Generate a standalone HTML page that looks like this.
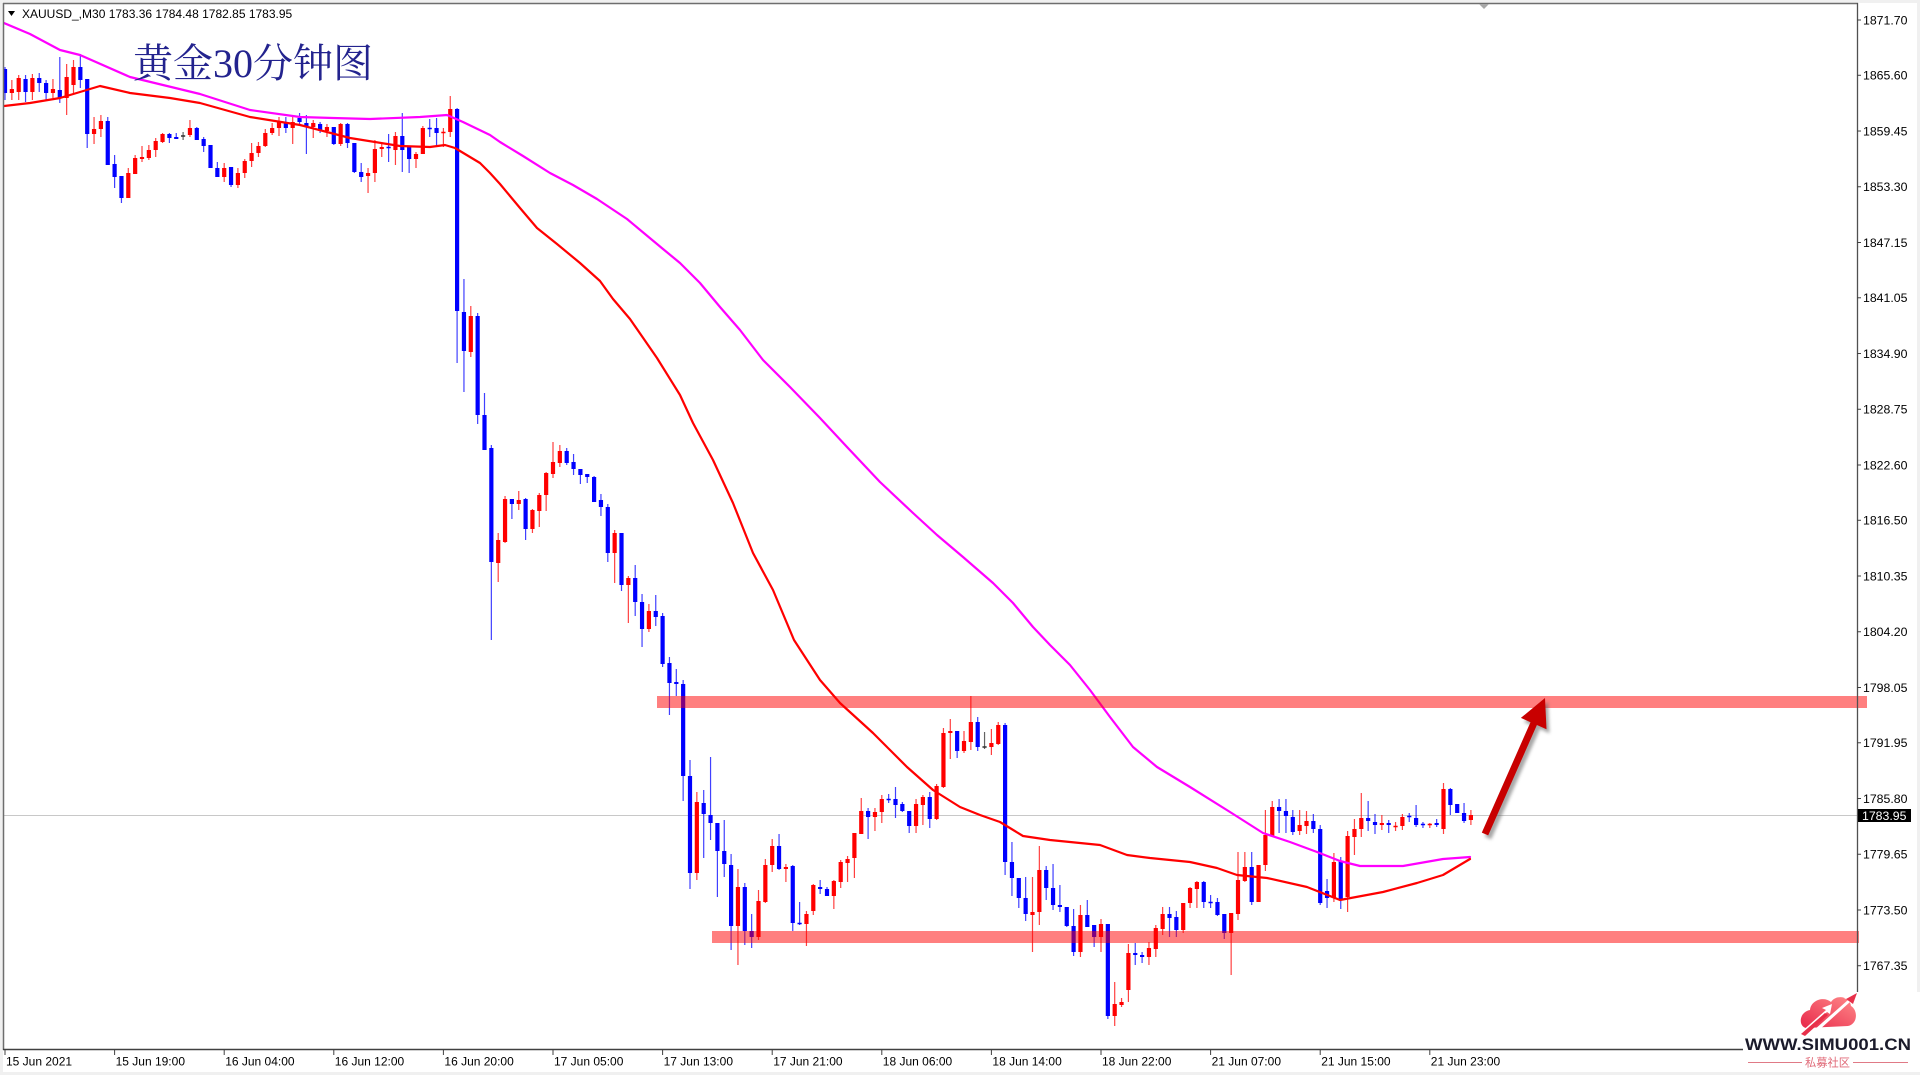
<!DOCTYPE html>
<html>
<head>
<meta charset="utf-8">
<style>
html,body{margin:0;padding:0;background:#f0f0f0;}
body{width:1920px;height:1075px;overflow:hidden;}
svg{display:block;}
text{font-family:"Liberation Sans","Noto Sans CJK SC",sans-serif;}
</style>
</head>
<body>
<svg id="chart" width="1920" height="1075" viewBox="0 0 1920 1075" xmlns="http://www.w3.org/2000/svg">
<defs>
  <clipPath id="clip"><rect x="4" y="4" width="1853" height="1046"/></clipPath>
  <linearGradient id="lg" x1="0" y1="1" x2="1" y2="0">
    <stop offset="0" stop-color="#e8284a"/>
    <stop offset="1" stop-color="#ff8a8a"/>
  </linearGradient>
  <filter id="sh" x="-20%" y="-20%" width="140%" height="140%">
    <feGaussianBlur stdDeviation="1.5"/>
  </filter>
</defs>
<!-- background -->
<rect x="0" y="0" width="1920" height="1075" fill="#f0f0f0"/>
<rect x="3" y="3" width="1914" height="1069" fill="#ffffff"/>

<!-- current price line -->
<line x1="4" y1="815.5" x2="1857" y2="815.5" stroke="#c8c8c8" stroke-width="1"/>

<!-- candles -->
<g id="candles" clip-path="url(#clip)"></g>

<!-- moving averages -->
<g clip-path="url(#clip)" fill="none" stroke-linejoin="round" stroke-linecap="round">
<polyline stroke="#ff00ff" stroke-width="2.2" points="4,23 30,34 60,50 80,55 130,77 200,94 250,110 300,117 333,118 370,119 420,117 447,115 463,122 490,135 500,142 523,156 550,173 573,185 597,199 627,219 663,249 680,263 700,283 720,307 740,330 763,360 790,387 820,418 847,447 880,482 913,513 937,535 963,557 993,583 1013,603 1033,627 1050,645 1070,665 1090,690 1110,717 1133,747 1157,767 1190,787 1230,812 1263,833 1290,842 1317,852 1340,861 1360,866 1403,866 1443,859 1470,857"/>
<polyline stroke="#ff0000" stroke-width="2.2" points="4,106 30,103 60,98 100,86 130,93 170,98 200,103 250,117 300,125 350,138 400,146 430,147 445,145 455,148 470,157 480,163 490,173 500,184 520,208 537,228 557,244 580,263 600,281 613,299 630,319 657,358 680,395 693,423 713,460 733,503 753,553 773,590 794,640 807,660 820,680 840,703 873,733 907,767 933,790 960,807 980,815 1000,822 1023,836 1050,840 1100,845 1127,855 1150,858 1190,862 1217,868 1237,875 1267,878 1307,887 1340,900 1383,892 1417,883 1443,875 1470,859"/>
</g>

<!-- support / resistance bands -->
<rect x="657" y="696" width="1210" height="12" fill="#ff0000" fill-opacity="0.5"/>
<rect x="712" y="931" width="1147" height="12" fill="#ff0000" fill-opacity="0.5"/>

<!-- arrow -->
<polygon points="1481.8,832.6 1530.5,722.2 1520.9,717.9 1545,698 1546.5,729.3 1536.9,725 1488.2,835.4" fill="#606060" opacity="0.55" transform="translate(3,4)" filter="url(#sh)"/>
<polygon points="1481.8,832.6 1530.5,722.2 1520.9,717.9 1545,698 1546.5,729.3 1536.9,725 1488.2,835.4" fill="#c80000"/>

<!-- frame -->
<line x1="3.5" y1="3" x2="3.5" y2="1050" stroke="#6e6e6e" stroke-width="1.5"/>
<line x1="3" y1="3.5" x2="1858" y2="3.5" stroke="#6e6e6e" stroke-width="1.5"/>
<line x1="1857.5" y1="3" x2="1857.5" y2="1050" stroke="#505050" stroke-width="1.3"/>
<line x1="3" y1="1049.5" x2="1858" y2="1049.5" stroke="#404040" stroke-width="1.5"/>

<!-- top small marker -->
<polygon points="1479,4 1489,4 1484,9" fill="#a8a8a8"/>

<!-- header -->
<polygon points="8,11 15,11 11.5,16" fill="#000"/>
<text x="22" y="18" font-size="12" fill="#000">XAUUSD_,M30  1783.36 1784.48 1782.85 1783.95</text>

<!-- title -->
<text x="133" y="77" font-size="40" fill="#23238e" style="font-family:'Liberation Serif','Noto Serif CJK SC','Noto Sans CJK SC',serif;">黄金30分钟图</text>

<!-- price axis -->
<g id="yaxis" font-size="12.3" fill="#000"></g>

<!-- current price label -->
<rect x="1858" y="809" width="53" height="13" fill="#000"/>
<text x="1862" y="819.8" font-size="12.3" fill="#fff">1783.95</text>

<!-- time axis -->
<g id="xaxis" font-size="12" fill="#000"></g>

<!-- logo -->
<rect x="1743" y="992" width="177" height="80" fill="#ffffff"/>
<g>
  <path d="M1806,1028 C1798,1026 1799,1012 1810,1010 C1811,1000 1824,996 1831,1002 C1836,994 1850,996 1851,1006 C1858,1010 1858,1024 1848,1026 Z" fill="url(#lg)"/>
  <polygon points="1800,1033 1826,1010 1822,1008 1832,1004 1830,1014 1827,1012 1804,1034" fill="#ffffff"/>
  <polygon points="1814,1030 1848,1000 1844,998 1857,993 1852,1005 1850,1002 1818,1031" fill="#ffffff"/>
  <polygon points="1801,1034 1825,1013 1828,1015 1805,1036" fill="#e8304a"/>
  <polygon points="1846,999 1857,993 1853,1004" fill="#e8304a"/>
</g>
<text x="1745" y="1050" font-size="16.5" font-weight="bold" fill="#1b1b2b" textLength="166" lengthAdjust="spacingAndGlyphs">WWW.SIMU001.CN</text>
<line x1="1748" y1="1062.5" x2="1802" y2="1062.5" stroke="#e07a86" stroke-width="1"/>
<line x1="1853" y1="1062.5" x2="1908" y2="1062.5" stroke="#e07a86" stroke-width="1"/>
<text x="1805" y="1066.5" font-size="11.5" fill="#e06a78" textLength="45" lengthAdjust="spacingAndGlyphs">私募社区</text>
</svg>

<script>
(function(){
var NS="http://www.w3.org/2000/svg";
var D=[
[69,67,100,93],[93,80,100,89],[92,75,100,78],[79,75,102,92],[92,74,100,78],[78,73,92,83],[83,80,100,93],[93,79,98,89],[90,57,103,98],[98,64,115,77],
[85,60,93,67],[67,54,88,80],[79,79,148,134],[134,117,144,129],[129,115,137,121],[121,117,165,165],[164,155,188,177],[176,176,203,198],[198,168,198,173],[174,155,174,158],
[159,146,162,157],[158,145,160,150],[150,138,157,141],[142,133,143,134],[134,133,143,138],[137,133,139,139],[136,132,140,136],[135,120,137,128],[128,127,140,140],[139,137,152,146],
[145,145,168,168],[168,162,177,177],[177,163,182,168],[167,167,187,185],[185,168,188,173],[173,159,178,161],[161,143,167,153],[153,142,157,146],[146,129,147,133],[133,123,135,128],
[128,117,136,122],[122,117,133,128],[128,117,144,122],[118,113,125,122],[123,115,154,127],[127,120,138,123],[124,122,133,131],[131,124,137,127],[127,127,145,144],[144,123,146,124],
[124,123,148,143],[143,143,173,172],[172,163,182,177],[176,168,193,173],[173,140,182,149],[149,142,157,147],[147,134,162,148],[150,132,165,136],[136,113,172,150],[147,147,173,159],
[159,152,168,154],[154,126,154,128],[128,119,137,129],[128,118,147,133],[133,128,147,132],[132,96,137,109],[109,108,363,311],[312,279,392,351],[352,306,357,316],[316,313,424,415],
[415,393,450,450],[448,445,640,562],[563,533,582,540],[542,496,543,499],[499,499,519,504],[504,491,510,500],[499,498,540,529],[529,509,533,510],[511,493,527,495],[495,472,511,473],
[474,442,478,462],[463,445,467,451],[451,448,465,463],[462,454,475,469],[469,469,484,475],[474,474,483,477],[477,476,502,502],[500,494,516,507],[507,504,562,553],[553,530,583,533],
[533,533,591,585],[585,576,623,578],[578,565,616,602],[602,594,647,629],[629,604,632,611],[611,595,626,617],[616,613,667,664],[663,657,715,683],[682,669,696,684],[684,680,801,776],
[776,760,889,873],[873,792,880,802],[803,790,858,814],[815,757,840,823],[823,823,897,851],[851,820,877,864],[865,854,950,926],[926,869,965,887],[887,883,945,931],[931,914,948,937],
[937,890,940,901],[902,859,903,865],[865,839,872,846],[846,834,870,869],[869,864,882,867],[866,865,931,923],[923,902,925,924],[924,911,946,914],[911,884,915,885],[887,880,894,889],
[889,887,896,896],[896,880,909,881],[882,860,888,862],[863,856,882,859],[858,833,878,833],[834,798,834,811],[811,808,839,817],[817,808,831,812],[812,795,823,799],[799,794,803,800],
[799,787,818,805],[804,802,812,811],[811,811,833,826],[826,799,833,804],[805,795,825,797],[797,792,828,819],[819,784,820,786],[787,728,788,733],[733,719,759,731],[731,731,758,751],
[751,731,753,741],[742,696,750,722],[722,717,751,747],[747,732,749,747],[747,729,755,743],[744,722,745,725],[725,723,875,862],[862,842,896,878],[878,878,908,898],[898,877,921,914],
[915,877,952,912],[912,846,925,870],[870,866,900,888],[888,864,910,905],[905,885,912,907],[907,907,927,926],[926,909,956,952],[952,905,957,915],[915,900,927,927],[925,925,947,937],
[937,919,952,924],[924,924,1019,1016],[1016,982,1026,1004],[1005,998,1007,1002],[990,944,1002,953],[953,943,965,955],[955,952,963,957],[957,942,965,948],[949,925,957,928],[929,907,935,914],
[914,907,937,918],[917,911,937,930],[930,903,933,903],[903,887,908,888],[889,881,908,882],[882,881,908,902],[902,895,908,903],[902,898,916,915],[914,914,939,933],[933,913,975,913],
[914,852,920,880],[881,852,882,867],[867,852,905,902],[902,865,902,865],[865,810,871,835],[836,801,836,807],[807,799,833,811],[811,799,833,816],[817,810,835,832],[831,810,835,825],
[826,811,834,821],[821,814,833,829],[829,825,905,903],[891,879,908,898],[898,853,902,862],[861,857,909,900],[897,831,912,836],[837,819,855,829],[829,793,837,818],[818,801,831,821],
[822,814,834,825],[825,815,830,823],[823,820,833,825],[827,822,831,826],[826,814,830,817],[816,813,822,817],[818,805,827,825],[824,822,828,825],[825,823,828,824],[823,819,827,825],
[829,783,834,789],[789,788,815,805],[804,804,813,813],[813,803,823,821],[820,810,825,815]
];
var g=document.getElementById("candles");
for(var i=0;i<D.length;i++){
  var d=D[i],o=d[0],h=d[1],l=d[2],c=d[3];
  var x=5+6.85*i;
  var col=c<o?"#ff0000":(c>o?"#0000ff":"#303030");
  var ln=document.createElementNS(NS,"line");
  ln.setAttribute("x1",x);ln.setAttribute("x2",x);
  ln.setAttribute("y1",h);ln.setAttribute("y2",l);
  ln.setAttribute("stroke",col);ln.setAttribute("stroke-width","1.2");
  ln.setAttribute("stroke-opacity","0.75");
  g.appendChild(ln);
  var top=Math.min(o,c),bh=Math.abs(o-c);
  if(bh<1.5){bh=1.5;top=(o+c)/2-0.75;}
  var r=document.createElementNS(NS,"rect");
  r.setAttribute("x",x-2.1);r.setAttribute("y",top);
  r.setAttribute("width","4.2");r.setAttribute("height",bh);
  r.setAttribute("fill",col);
  g.appendChild(r);
}
// y axis
var ya=document.getElementById("yaxis");
var P=["1871.70","1865.60","1859.45","1853.30","1847.15","1841.05","1834.90","1828.75","1822.60","1816.50","1810.35","1804.20","1798.05","1791.95","1785.80","1779.65","1773.50","1767.35"];
for(var j=0;j<P.length;j++){
  var p=parseFloat(P[j]);
  var y=20+(1871.70-p)*9.063;
  var t=document.createElementNS(NS,"line");
  t.setAttribute("x1","1857");t.setAttribute("x2","1861");
  t.setAttribute("y1",y);t.setAttribute("y2",y);
  t.setAttribute("stroke","#404040");t.setAttribute("stroke-width","1");
  ya.appendChild(t);
  var tx=document.createElementNS(NS,"text");
  tx.setAttribute("x","1863");tx.setAttribute("y",(y+4.3).toFixed(1));
  tx.textContent=P[j];
  ya.appendChild(tx);
}
// x axis
var xa=document.getElementById("xaxis");
var L=["15 Jun 2021","15 Jun 19:00","16 Jun 04:00","16 Jun 12:00","16 Jun 20:00","17 Jun 05:00","17 Jun 13:00","17 Jun 21:00","18 Jun 06:00","18 Jun 14:00","18 Jun 22:00","21 Jun 07:00","21 Jun 15:00","21 Jun 23:00"];
for(var k=0;k<L.length;k++){
  var xx=5+109.6*k;
  var tk=document.createElementNS(NS,"line");
  tk.setAttribute("x1",xx);tk.setAttribute("x2",xx);
  tk.setAttribute("y1","1050");tk.setAttribute("y2","1055");
  tk.setAttribute("stroke","#404040");tk.setAttribute("stroke-width","1");
  xa.appendChild(tk);
  var lt=document.createElementNS(NS,"text");
  lt.setAttribute("x",xx+1);lt.setAttribute("y","1065.5");
  lt.textContent=L[k];
  xa.appendChild(lt);
}
})();
</script>
</body>
</html>
